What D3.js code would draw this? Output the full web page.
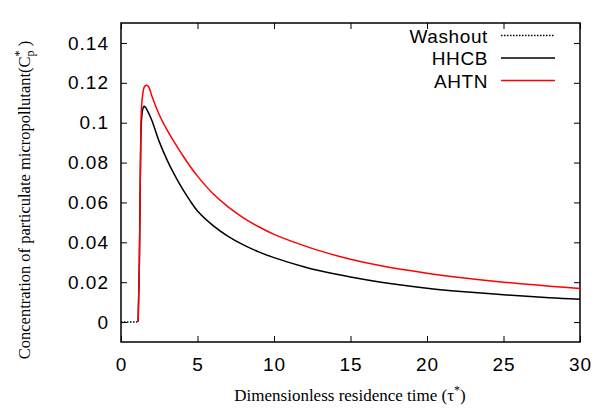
<!DOCTYPE html>
<html>
<head>
<meta charset="utf-8">
<script src="https://cdn.jsdelivr.net/npm/d3@7"></script>
<style>
  body { margin: 0; background: #fff; }
  .tick text { font-family: "Liberation Sans", Arial, sans-serif; font-size: 19px; letter-spacing: 1px; }
</style>
</head>
<body>
<div id="chart"></div>
<script>
// set the size of svg
const width = 604; const height = 409;
const margin = {top: 23, right: 24, bottom: 67, left: 121};
const innerWidth = width - margin.left - margin.right;
const innerHeight = height - margin.top - margin.bottom;

// data
const washout_t = [0, 1.05];
const washout_c = [0, 0];
const hhcb_t = [1.12, 1.2, 1.25, 1.29, 1.33, 1.4, 1.46, 1.52, 1.6, 1.7, 2, 2.5, 3, 3.5, 4, 4.5, 5, 6, 7, 8, 9, 10, 12, 13, 15, 17, 20, 22, 25, 28, 30];
const hhcb_c = [0, 0.03, 0.065, 0.09, 0.1, 0.106, 0.1077, 0.1082, 0.1077, 0.1064, 0.1015, 0.0905, 0.0815, 0.0738, 0.067, 0.061, 0.0557, 0.0485, 0.043, 0.0387, 0.0352, 0.0323, 0.0276, 0.0257, 0.0226, 0.02, 0.017, 0.0155, 0.0137, 0.0122, 0.0115];
const ahtn_t = [1.12, 1.2, 1.25, 1.29, 1.32, 1.4, 1.5, 1.58, 1.68, 1.8, 1.9, 2, 2.5, 3, 3.5, 4, 4.5, 5, 6, 7, 8, 9, 10, 12, 13, 15, 17, 20, 22, 25, 28, 30];
const ahtn_c = [0, 0.03, 0.065, 0.09, 0.104, 0.113, 0.1175, 0.1185, 0.1188, 0.118, 0.1163, 0.1138, 0.104, 0.0965, 0.09, 0.084, 0.0783, 0.0732, 0.0645, 0.0578, 0.0523, 0.0478, 0.044, 0.0382, 0.0357, 0.0315, 0.0282, 0.0245, 0.0225, 0.02, 0.018, 0.0168];
const x_ticks = [0, 5, 10, 15, 20, 25, 30];
const y_ticks = [0, 0.02, 0.04, 0.06, 0.08, 0.1, 0.12, 0.14];

const series = [
  {name: "Washout", t: washout_t, c: washout_c, color: "#000", dash: "1.5,1.5"},
  {name: "HHCB", t: hhcb_t, c: hhcb_c, color: "#000", dash: null},
  {name: "AHTN", t: ahtn_t, c: ahtn_c, color: "#ff0000", dash: null}
];

let svg = d3.select('#chart')
  .append('svg')
    .attr('width', width)
    .attr('height', height);
let plotG = svg.append('g')
  .attr('transform', `translate(${margin.left}, ${margin.top})`);

const x_scale = d3.scaleLinear().domain([0, 30]).range([0, innerWidth]);
const y_scale = d3.scaleLinear().domain([-0.01, 0.15]).range([innerHeight, 0]);

// axes, ticks pointing inward and mirrored like gnuplot
const fmt = d => d === 0 ? "0" : String(d);
plotG.append('g')
  .attr('transform', `translate(0, ${innerHeight})`)
  .call(d3.axisBottom(x_scale).tickValues(x_ticks).tickFormat(fmt).tickSizeInner(-6).tickSizeOuter(0).tickPadding(16));
plotG.append('g').attr('class', 'mirror')
  .call(d3.axisTop(x_scale).tickValues(x_ticks).tickSizeInner(-6).tickSizeOuter(0));
plotG.append('g')
  .call(d3.axisLeft(y_scale).tickValues(y_ticks).tickFormat(fmt).tickSizeInner(-6).tickSizeOuter(0).tickPadding(12));
plotG.append('g').attr('class', 'mirror')
  .attr('transform', `translate(${innerWidth}, 0)`)
  .call(d3.axisRight(y_scale).tickValues(y_ticks).tickSizeInner(-6).tickSizeOuter(0));
plotG.selectAll('.mirror .tick text').remove();
plotG.selectAll('.domain').remove();
plotG.selectAll('.tick line').attr('stroke', '#000').attr('stroke-width', 1);
plotG.selectAll('.tick text').attr('fill', '#000');

// frame
plotG.append('rect')
  .attr('width', innerWidth).attr('height', innerHeight)
  .attr('fill', 'none').attr('stroke', '#000').attr('stroke-width', 1.5);

const line = d3.line()
  .x(d => x_scale(d[0]))
  .y(d => y_scale(d[1]))
  .curve(d3.curveCatmullRom.alpha(0.5));

series.forEach(s => {
  plotG.append('path')
    .datum(s.t.map((t, i) => [t, s.c[i]]))
    .attr('d', line)
    .attr('fill', 'none')
    .attr('stroke', s.color)
    .attr('stroke-width', 1.5)
    .attr('stroke-dasharray', s.dash);
});

// legend
const legG = svg.append('g');
series.forEach((s, i) => {
  const y = 42.5 + i * 22.5;
  legG.append('text')
    .attr('x', 488).attr('y', y)
    .attr('text-anchor', 'end')
    .style('font-family', '"Liberation Sans", Arial, sans-serif')
    .style('font-size', '19px')
    .style('letter-spacing', '0.6px')
    .text(s.name);
  legG.append('line')
    .attr('x1', 501).attr('x2', 555)
    .attr('y1', y - 7).attr('y2', y - 7)
    .attr('stroke', s.color)
    .attr('stroke-width', 1.5)
    .attr('stroke-dasharray', s.dash);
});

// axis titles
const serif = '"Liberation Serif", "Times New Roman", serif';
const xt = svg.append('text')
  .attr('x', 350).attr('y', 401)
  .attr('text-anchor', 'middle')
  .style('font-family', serif).style('font-size', '17px');
xt.append('tspan').text('Dimensionless residence time (τ');
xt.append('tspan').attr('dy', -7).style('font-size', '12px').text('*');
xt.append('tspan').attr('dy', 7).text(')');

const yt = svg.append('text')
  .attr('transform', 'translate(30, 200) rotate(-90)')
  .attr('text-anchor', 'middle')
  .style('font-family', serif).style('font-size', '16.5px');
yt.append('tspan').text('Concentration of particulate micropollutant(C');
yt.append('tspan').attr('dy', 4).style('font-size', '12px').text('p');
yt.append('tspan').attr('dy', -11).attr('dx', -6).style('font-size', '12px').text('*');
yt.append('tspan').attr('dy', 7).text(' )');
</script>
</body>
</html>
